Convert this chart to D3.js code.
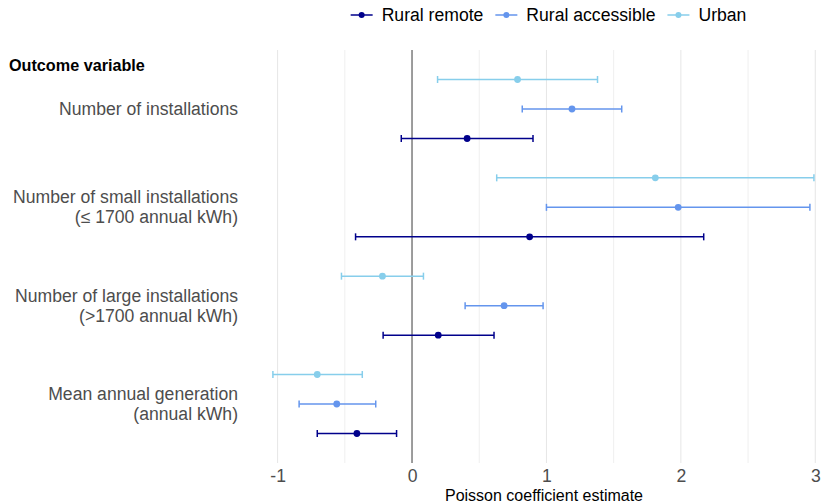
<!DOCTYPE html>
<html>
<head>
<meta charset="utf-8">
<script src="https://cdn.jsdelivr.net/npm/d3@7"></script>
<style>
  html, body { margin: 0; padding: 0; background: #fff; }
  svg { display: block; font-family: "Liberation Sans", Arial, sans-serif; }
</style>
</head>
<body>
<svg id="chart" width="821" height="503"></svg>
<script>
// Outcomes, listed top to bottom (each label may span two lines)
const outcomes = [
  ["Number of installations"],
  ["Number of small installations", "(\u2264 1700 annual kWh)"],
  ["Number of large installations", "(>1700 annual kWh)"],
  ["Mean annual generation", "(annual kWh)"]
];
const groups = ["Rural remote", "Rural accessible", "Urban"];
const groupColors = ["#00008b", "#6495ed", "#87ceeb"];

// Poisson coefficient estimates and 95% interval bounds, per outcome (same order as outcomes)
const ruralRemoteEst  = [0.41, 0.875, 0.195, -0.41];
const ruralRemoteLow  = [-0.08, -0.42, -0.215, -0.705];
const ruralRemoteHigh = [0.90, 2.17, 0.61, -0.115];

const ruralAccessibleEst  = [1.19, 1.98, 0.685, -0.56];
const ruralAccessibleLow  = [0.82, 1.00, 0.395, -0.84];
const ruralAccessibleHigh = [1.56, 2.96, 0.975, -0.27];

const urbanEst  = [0.785, 1.81, -0.22, -0.705];
const urbanLow  = [0.19, 0.63, -0.525, -1.035];
const urbanHigh = [1.38, 2.99, 0.085, -0.37];

const xTicks = [-1, 0, 1, 2, 3];
const xGrid = [-1, -0.5, 0, 0.5, 1, 1.5, 2, 2.5, 3];

const estimates = [ruralRemoteEst, ruralAccessibleEst, urbanEst];
const lows = [ruralRemoteLow, ruralAccessibleLow, urbanLow];
const highs = [ruralRemoteHigh, ruralAccessibleHigh, urbanHigh];

const rows = [];
groups.forEach((g, gi) => {
  outcomes.forEach((o, oi) => {
    rows.push({ group: g, gi, outcome: oi, est: estimates[gi][oi], lo: lows[gi][oi], hi: highs[gi][oi] });
  });
});

const svg = d3.select("#chart");
const panel = { left: 244, right: 822, top: 50, bottom: 463 };

const x = d3.scaleLinear().domain([-1.25, 3.05]).range([panel.left, panel.right]);

// Outcome positions: the first outcome sits at the top; expanded by 0.6 on each end
const nOut = outcomes.length;
const yPos = d3.scaleLinear().domain([nOut + 0.6, 0.4]).range([panel.top, panel.bottom]);
const outcomeY = i => yPos(nOut - i);
// Dodge within an outcome: Urban on top, Rural remote at the bottom
const dodge = 0.3;
const rowY = d => outcomeY(d.outcome) + (1 - d.gi) * (yPos(0) - yPos(dodge));

// Gridlines
svg.append("g").selectAll("line").data(xGrid).join("line")
  .attr("x1", d => x(d)).attr("x2", d => x(d))
  .attr("y1", panel.top).attr("y2", panel.bottom)
  .attr("stroke", d => Number.isInteger(d) ? "#e6e6e6" : "#efefef")
  .attr("stroke-width", 1);

// Reference line at zero
svg.append("line")
  .attr("x1", x(0)).attr("x2", x(0))
  .attr("y1", panel.top).attr("y2", panel.bottom)
  .attr("stroke", "#878787").attr("stroke-width", 1.6);

// Error bars and points
const cap = 3.5;
const marks = svg.append("g").selectAll("g").data(rows).join("g")
  .attr("stroke", d => groupColors[d.gi])
  .attr("fill", d => groupColors[d.gi]);
marks.append("line")
  .attr("x1", d => x(d.lo)).attr("x2", d => x(d.hi))
  .attr("y1", rowY).attr("y2", rowY)
  .attr("stroke-width", 1.5);
marks.append("line")
  .attr("x1", d => x(d.lo)).attr("x2", d => x(d.lo))
  .attr("y1", d => rowY(d) - cap).attr("y2", d => rowY(d) + cap)
  .attr("stroke-width", 1.5);
marks.append("line")
  .attr("x1", d => x(d.hi)).attr("x2", d => x(d.hi))
  .attr("y1", d => rowY(d) - cap).attr("y2", d => rowY(d) + cap)
  .attr("stroke-width", 1.5);
marks.append("circle")
  .attr("cx", d => x(d.est)).attr("cy", rowY)
  .attr("r", 3.4).attr("stroke", "none");

// Outcome labels on the left
const lineGap = 20;
const labels = svg.append("g").selectAll("text").data(outcomes).join("text")
  .attr("text-anchor", "end")
  .attr("fill", "#4d4d4d")
  .attr("font-size", 17.6)
  .attr("x", 238)
  .attr("y", (d, i) => outcomeY(i) - (d.length - 1) * lineGap / 2 + 6);
labels.selectAll("tspan").data(d => d).join("tspan")
  .attr("x", 238)
  .attr("dy", (d, i) => i === 0 ? 0 : lineGap)
  .text(d => d);

svg.append("text")
  .attr("x", 9).attr("y", 71)
  .attr("font-size", 16.2).attr("font-weight", "bold").attr("fill", "#000")
  .text("Outcome variable");

// X axis tick labels and title
const xAxis = d3.axisBottom(x).tickValues(xTicks).tickSize(0).tickPadding(0).tickFormat(d3.format("d"));
const axisG = svg.append("g").attr("transform", `translate(0,${panel.bottom})`).call(xAxis);
axisG.select(".domain").remove();
axisG.selectAll("text")
  .attr("font-family", "Liberation Sans, Arial, sans-serif")
  .attr("font-size", 17.6).attr("fill", "#4d4d4d")
  .attr("dy", 0).attr("y", 19)
  .text(d => d < 0 ? "-" + Math.abs(d) : d);

svg.append("text")
  .attr("x", 544).attr("y", 501)
  .attr("text-anchor", "middle")
  .attr("font-size", 16).attr("fill", "#000")
  .text("Poisson coefficient estimate");

// Legend across the top
const legend = svg.append("g").attr("transform", "translate(0,15)");
const items = legend.selectAll("g").data(groups).join("g");
items.append("line").attr("x1", 0).attr("x2", 22).attr("y1", 0).attr("y2", 0)
  .attr("stroke", (d, i) => groupColors[i]).attr("stroke-width", 1.5);
items.append("circle").attr("cx", 11).attr("cy", 0).attr("r", 3)
  .attr("fill", (d, i) => groupColors[i]);
items.append("text").attr("x", 31).attr("y", 6)
  .attr("font-size", 17.6).attr("fill", "#000")
  .text(d => d);
const widths = [];
items.each(function () {
  widths.push(31 + d3.select(this).select("text").node().getComputedTextLength());
});
const gap = 12;
const total = d3.sum(widths) + gap * (widths.length - 1);
let cursor = 548.5 - total / 2;
items.attr("transform", (d, i) => {
  const t = `translate(${cursor},0)`;
  cursor += widths[i] + gap;
  return t;
});
</script>
</body>
</html>
